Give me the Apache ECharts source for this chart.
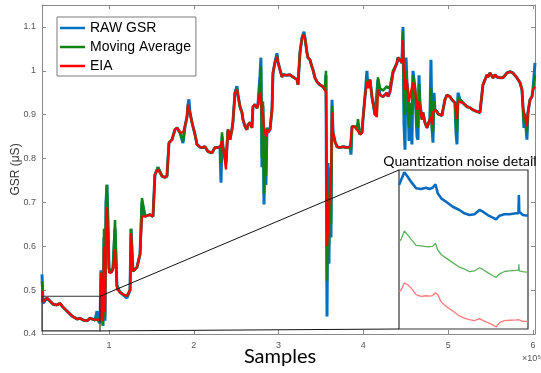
<!DOCTYPE html>
<html>
<head>
<meta charset="utf-8">
<script src="https://cdn.jsdelivr.net/npm/echarts@6/dist/echarts.min.js"></script>
<style>
  html, body { margin: 0; padding: 0; background: #fff; }
  #chart { width: 541px; height: 373px; }
</style>
</head>
<body>
<div id="chart"></div>
<script>
// sample index of each point
const samples = [
  21000,22200,26900,30400,34000,38700,42200,45800,51700,56400,62300,65800,69300,74100,77600,83500,85900,87000,89400,90600,
  91800,92900,94100,95300,96500,97600,98800,100000,102400,104700,107100,109400,113000,116500,121200,124800,126000,128300,133000,136600,
  138900,142500,148300,151900,154200,157800,162500,166000,168400,169600,170800,174300,177800,180200,183700,187300,189600,192000,193200,194300,
  195500,197900,201400,203800,207300,209700,213200,216700,221500,225000,228500,230900,232100,233300,234400,238000,240300,242700,245000,246200,
  248600,250900,252100,254500,256800,258000,260400,262700,263900,266300,268600,269800,272200,274500,275700,278100,279200,280400,281600,282800,
  284000,285100,286300,287500,289900,292200,293400,295800,298100,299300,301700,304000,305200,309900,313400,317000,321700,322900,325200,327600,
  328800,330000,331100,333500,334700,337000,339400,340600,342900,345300,346500,348800,352400,354700,355900,357100,358300,359400,360600,361800,
  363000,364200,366500,368900,372400,375900,380700,384200,385400,386600,387700,390100,392500,393600,396000,398400,399500,401900,404200,405400,
  407800,410100,411300,413700,416000,417200,419600,423100,427800,429000,431400,434900,439600,440800,443200,445500,446700,447900,449100,450300,
  451400,452600,453800,455000,457300,458500,460800,463200,464400,465600,466700,469100,470300,472600,475000,476200,478500,479700,480900,482100,
  483300,484400,486800,488000,490300,492700,493900,496200,498600,502100,504500,508000,509200,510400,511600,513900,517500,522200,525700,529200,
  534000,537500,541000,545800,546900,549300,552800,555200,557500,561100,564600,569300,572900,576400,581100,584700,587000,588200,589400,590600,
  592900,594100,596500,598800,600000,602400
];

const rawGsr = [
  0.536,0.470,0.482,0.475,0.468,0.466,0.470,0.461,0.450,0.441,0.434,0.436,0.432,0.430,0.436,0.432,0.452,0.431,0.425,0.545,
  0.500,0.418,0.620,0.430,0.700,0.740,0.660,0.550,0.540,0.550,0.640,0.510,0.495,0.490,0.482,0.500,0.640,0.543,0.552,0.582,
  0.700,0.668,0.672,0.668,0.763,0.780,0.760,0.757,0.760,0.800,0.836,0.843,0.866,0.870,0.859,0.835,0.873,0.895,0.923,0.935,
  0.905,0.882,0.855,0.832,0.826,0.825,0.827,0.816,0.813,0.825,0.825,0.827,0.745,0.850,0.827,0.790,0.866,0.843,0.866,0.884,
  0.950,0.965,0.945,0.918,0.905,0.889,0.873,0.866,0.877,0.882,0.870,0.918,0.923,0.915,0.923,0.990,1.030,0.780,0.920,0.695,
  0.840,0.740,0.870,0.860,0.866,0.911,0.995,1.020,1.040,1.020,1.002,0.986,0.991,0.990,0.991,0.986,0.980,0.968,1.041,1.075,
  1.082,1.089,1.075,1.041,1.030,1.025,1.009,1.002,0.984,0.975,0.973,0.968,0.964,0.957,0.990,0.440,0.790,0.560,0.780,0.620,
  0.934,0.859,0.839,0.827,0.825,0.827,0.825,0.827,0.809,0.873,0.877,0.873,0.866,0.880,0.855,0.859,0.889,0.941,1.000,0.961,
  0.980,0.941,0.927,0.900,0.900,0.980,0.945,0.941,0.950,0.941,0.952,0.995,1.018,1.030,1.025,1.018,1.100,0.880,0.820,1.030,
  0.973,0.950,0.840,0.927,0.832,1.000,0.961,0.850,0.843,0.990,0.927,0.889,0.905,0.882,0.870,0.877,0.890,1.025,0.870,0.836,
  0.950,0.911,0.907,0.902,0.902,0.898,0.911,0.934,0.945,0.941,0.934,0.927,0.860,0.832,0.950,0.934,0.927,0.918,0.916,0.911,
  0.907,0.905,0.968,0.991,0.986,0.995,0.984,0.991,0.986,0.984,0.984,0.995,0.998,0.995,0.984,0.973,0.957,0.918,0.870,0.900,
  0.843,0.905,0.934,0.941,0.957,1.018
];

const movingAvg = [
  0.520,0.475,0.482,0.475,0.468,0.466,0.470,0.461,0.450,0.441,0.434,0.436,0.432,0.430,0.436,0.432,0.436,0.431,0.430,0.540,
  0.520,0.420,0.640,0.440,0.700,0.740,0.650,0.550,0.540,0.550,0.660,0.510,0.495,0.490,0.487,0.500,0.640,0.543,0.552,0.582,
  0.710,0.668,0.672,0.668,0.763,0.780,0.760,0.757,0.760,0.800,0.836,0.843,0.866,0.870,0.859,0.840,0.873,0.895,0.923,0.925,
  0.905,0.882,0.855,0.832,0.826,0.825,0.827,0.816,0.813,0.825,0.825,0.827,0.790,0.860,0.827,0.800,0.866,0.843,0.866,0.884,
  0.950,0.960,0.945,0.918,0.905,0.889,0.873,0.866,0.877,0.882,0.870,0.918,0.923,0.915,0.923,0.970,1.010,0.800,0.930,0.720,
  0.850,0.760,0.870,0.860,0.866,0.911,0.995,1.020,1.035,1.020,1.002,0.986,0.991,0.990,0.991,0.986,0.980,0.968,1.041,1.075,
  1.082,1.085,1.075,1.041,1.030,1.025,1.009,1.002,0.984,0.975,0.973,0.968,0.964,0.957,1.000,0.520,0.720,0.600,0.760,0.650,
  0.920,0.859,0.839,0.827,0.825,0.827,0.825,0.827,0.820,0.873,0.877,0.873,0.866,0.890,0.855,0.859,0.889,0.941,0.980,0.961,
  0.980,0.941,0.927,0.900,0.910,0.985,0.960,0.955,0.965,0.960,0.965,1.000,1.018,1.030,1.025,1.018,1.090,0.930,0.900,1.000,
  0.973,0.950,0.870,0.927,0.900,0.990,0.961,0.880,0.870,0.970,0.927,0.889,0.905,0.882,0.870,0.877,0.890,0.960,0.870,0.860,
  0.930,0.911,0.907,0.902,0.902,0.898,0.911,0.934,0.945,0.941,0.934,0.927,0.880,0.860,0.940,0.934,0.927,0.918,0.916,0.911,
  0.907,0.905,0.968,0.991,0.986,0.995,0.984,0.991,0.986,0.984,0.984,0.995,0.998,0.995,0.984,0.973,0.957,0.918,0.880,0.900,
  0.860,0.905,0.934,0.941,0.957,0.990
];

const eia = [
  0.498,0.473,0.482,0.475,0.468,0.466,0.470,0.461,0.450,0.441,0.434,0.436,0.432,0.430,0.436,0.432,0.433,0.431,0.432,0.540,
  0.480,0.430,0.600,0.450,0.660,0.689,0.620,0.540,0.540,0.545,0.593,0.502,0.495,0.490,0.487,0.500,0.630,0.543,0.552,0.582,
  0.668,0.668,0.672,0.668,0.763,0.775,0.760,0.757,0.760,0.800,0.836,0.843,0.866,0.870,0.859,0.860,0.873,0.895,0.923,0.920,
  0.905,0.882,0.855,0.832,0.826,0.825,0.827,0.816,0.813,0.825,0.825,0.827,0.830,0.840,0.827,0.775,0.866,0.843,0.866,0.884,
  0.950,0.957,0.945,0.918,0.905,0.889,0.873,0.866,0.877,0.882,0.870,0.918,0.923,0.915,0.923,0.950,0.940,0.900,0.905,0.870,
  0.860,0.850,0.866,0.860,0.866,0.911,0.995,1.020,1.032,1.020,1.002,0.986,0.991,0.990,0.991,0.986,0.980,0.968,1.041,1.075,
  1.082,1.080,1.075,1.041,1.030,1.025,1.009,1.002,0.984,0.975,0.973,0.968,0.964,0.957,0.950,0.600,0.640,0.680,0.720,0.750,
  0.905,0.859,0.839,0.827,0.825,0.827,0.825,0.827,0.830,0.873,0.877,0.873,0.866,0.862,0.855,0.859,0.889,0.941,0.975,0.961,
  0.980,0.941,0.927,0.900,0.895,0.957,0.945,0.941,0.950,0.941,0.952,0.995,1.018,1.030,1.025,1.018,1.070,0.990,0.957,0.980,
  0.973,0.950,0.930,0.927,0.964,0.973,0.961,0.911,0.918,0.930,0.927,0.889,0.905,0.882,0.870,0.877,0.890,0.895,0.877,0.905,
  0.905,0.911,0.907,0.902,0.902,0.898,0.911,0.934,0.945,0.941,0.934,0.927,0.910,0.890,0.930,0.934,0.927,0.918,0.916,0.911,
  0.907,0.905,0.968,0.991,0.986,0.995,0.984,0.991,0.986,0.984,0.984,0.995,0.998,0.995,0.984,0.973,0.957,0.918,0.905,0.900,
  0.873,0.905,0.934,0.941,0.957,0.964
];

const xTicks = [100000, 200000, 300000, 400000, 500000, 600000];
const yTicks = [0.4, 0.5, 0.6, 0.7, 0.8, 0.9, 1.0, 1.1];

// zoomed window shown in the inset
const zoomSamples = [21000, 89400];
const zoomGsr = [0.407, 0.486];

const detailSamples = [
  21000,22100,23800,25600,27300,30000,32600,35200,37000,38700,40200,41400,43200,45800,49300,52800,55400,
  58100,60700,63400,65100,67700,70400,72100,73900,76500,79100,82700,83900,84100,84300,86200,88900
];
const detailRaw = [
  0.4676,0.4731,0.4817,0.4768,0.4713,0.4640,0.4632,0.4646,0.4632,0.4646,0.4684,0.4584,0.4529,0.4491,0.4436,0.4400,0.4363,
  0.4344,0.4352,0.4400,0.4381,0.4344,0.4315,0.4297,0.4337,0.4352,0.4352,0.4363,0.4363,0.4566,0.4381,0.4344,0.4337
];
const detailAvg = [
  0.4702,0.4725,0.4820,0.4776,0.4730,0.4660,0.4655,0.4648,0.4646,0.4650,0.4684,0.4610,0.4560,0.4520,0.4470,0.4420,0.4400,
  0.4370,0.4378,0.4414,0.4395,0.4360,0.4325,0.4308,0.4345,0.4372,0.4378,0.4385,0.4389,0.4452,0.4378,0.4370,0.4363
];
const detailEia = [
  0.4716,0.4730,0.4810,0.4790,0.4755,0.4680,0.4661,0.4668,0.4663,0.4670,0.4700,0.4680,0.4600,0.4550,0.4500,0.4445,0.4420,
  0.4403,0.4392,0.4415,0.4395,0.4370,0.4345,0.4322,0.4370,0.4393,0.4397,0.4401,0.4403,0.4414,0.4400,0.4384,0.4384
];

const chart = echarts.init(document.getElementById('chart'));

const axisGray = '#8a8a8a';
const labelGray = '#555';
const pairs = (xs, ys) => xs.map((x, i) => [x, ys[i]]);

const boxX = { type: 'value', gridIndex: 0, min: 21000, max: 602400, splitLine: { show: false },
  axisLine: { show: true, lineStyle: { color: axisGray } },
  axisTick: { show: true, inside: true, length: 4, customValues: xTicks, lineStyle: { color: axisGray } } };
const boxY = { type: 'value', gridIndex: 0, min: 0.4, max: 1.15, splitLine: { show: false },
  axisLine: { show: true, lineStyle: { color: axisGray } },
  axisTick: { show: true, inside: true, length: 4, customValues: yTicks, lineStyle: { color: axisGray } } };

const detailTops = [170, 229, 280];

const option = {
  animation: false,
  grid: [
    { left: 42, top: 5, width: 493, height: 329, containLabel: false, outerBoundsMode: 'none' },
    ...detailTops.map(t => ({ left: 399, top: t, width: 129, height: 53, outerBoundsMode: 'none' }))
  ],
  legend: {
    data: ['RAW GSR', 'Moving Average', 'EIA'],
    orient: 'vertical',
    left: 57, top: 17,
    padding: [4, 5, 3, 3],
    icon: 'rect',
    itemWidth: 25, itemHeight: 2.5, itemGap: 5,
    borderColor: '#7a7a7a', borderWidth: 1, backgroundColor: '#fff',
    textStyle: { fontSize: 14, lineHeight: 14, color: '#000', fontFamily: 'Liberation Sans' }
  },
  xAxis: [
    Object.assign({}, boxX, { position: 'bottom',
      axisLabel: { customValues: xTicks, formatter: v => String(v / 1e5), color: labelGray, fontSize: 9, margin: 7, fontFamily: 'Liberation Sans' } }),
    Object.assign({}, boxX, { position: 'top', axisLabel: { show: false } }),
    ...[1, 2, 3].map(g => ({ type: 'value', gridIndex: g, min: 21000, max: 88900, show: false }))
  ],
  yAxis: [
    Object.assign({}, boxY, { position: 'left',
      name: 'GSR (μS)', nameLocation: 'middle', nameGap: 20, nameMoveOverlap: false,
      nameTextStyle: { fontSize: 12, color: '#333', fontFamily: 'Liberation Sans' },
      axisLabel: { customValues: yTicks, formatter: v => String(+v.toFixed(1)), color: labelGray, fontSize: 9, margin: 6, fontFamily: 'Liberation Sans' } }),
    Object.assign({}, boxY, { position: 'right', axisLabel: { show: false } }),
    ...[1, 2, 3].map(g => ({ type: 'value', gridIndex: g, min: 0.4256, max: 0.4842, show: false }))
  ],
  series: [
    { name: 'RAW GSR', type: 'line', symbol: 'none', data: pairs(samples, rawGsr),
      lineStyle: { color: '#0072BD', width: 3 }, itemStyle: { color: '#0072BD' } },
    { name: 'Moving Average', type: 'line', symbol: 'none', data: pairs(samples, movingAvg),
      lineStyle: { color: '#128212', width: 2.5 }, itemStyle: { color: '#128212' } },
    { name: 'EIA', type: 'line', symbol: 'none', data: pairs(samples, eia),
      lineStyle: { color: '#ff0000', width: 2.2 }, itemStyle: { color: '#ff0000' } },
    { type: 'line', symbol: 'none', xAxisIndex: 2, yAxisIndex: 2, z: 10, data: pairs(detailSamples, detailRaw),
      lineStyle: { color: '#0a6cc0', width: 2.6 } },
    { type: 'line', symbol: 'none', xAxisIndex: 3, yAxisIndex: 3, z: 10, data: pairs(detailSamples, detailAvg),
      lineStyle: { color: '#5cb25c', width: 1.3 } },
    { type: 'line', symbol: 'none', xAxisIndex: 4, yAxisIndex: 4, z: 10, data: pairs(detailSamples, detailEia),
      lineStyle: { color: '#ff7b7b', width: 1.3 } }
  ]
};
chart.setOption(option);

// annotation: zoom window, inset frame, connectors and texts
const tl = chart.convertToPixel({ xAxisIndex: 0, yAxisIndex: 0 }, [zoomSamples[0], zoomGsr[1]]);
const br = chart.convertToPixel({ xAxisIndex: 0, yAxisIndex: 0 }, [zoomSamples[1], zoomGsr[0]]);
const inset = { x: 399, y: 170, w: 129, h: 159 };
const dark = '#333';

chart.setOption({
  graphic: [
    { type: 'rect', z: 5, shape: { x: inset.x, y: inset.y, width: inset.w, height: inset.h },
      style: { fill: '#fff', stroke: dark, lineWidth: 1.2 } },
    { type: 'rect', z: 20, shape: { x: tl[0], y: tl[1], width: br[0] - tl[0], height: br[1] - tl[1] },
      style: { fill: null, stroke: dark, lineWidth: 1.2 } },
    { type: 'line', z: 20, shape: { x1: br[0], y1: tl[1], x2: inset.x, y2: inset.y },
      style: { stroke: '#111', lineWidth: 1 } },
    { type: 'line', z: 20, shape: { x1: br[0], y1: br[1], x2: inset.x, y2: inset.y + inset.h },
      style: { stroke: '#111', lineWidth: 1 } },
    { type: 'text', z: 20, x: 460, y: 161,
      style: { text: 'Quantization noise detail', fontSize: 14, fontFamily: 'Lato', fill: '#000', align: 'center', verticalAlign: 'middle' } },
    { type: 'text', z: 20, x: 280, y: 357,
      style: { text: 'Samples', fontSize: 20, fontFamily: 'Lato', fill: '#000', align: 'center', verticalAlign: 'middle' } },
    { type: 'text', z: 20, x: 522, y: 359,
      style: { text: '×10⁵', fontSize: 9, fontFamily: 'Liberation Sans', fill: labelGray, align: 'left', verticalAlign: 'middle' } }
  ]
});
</script>
</body>
</html>
